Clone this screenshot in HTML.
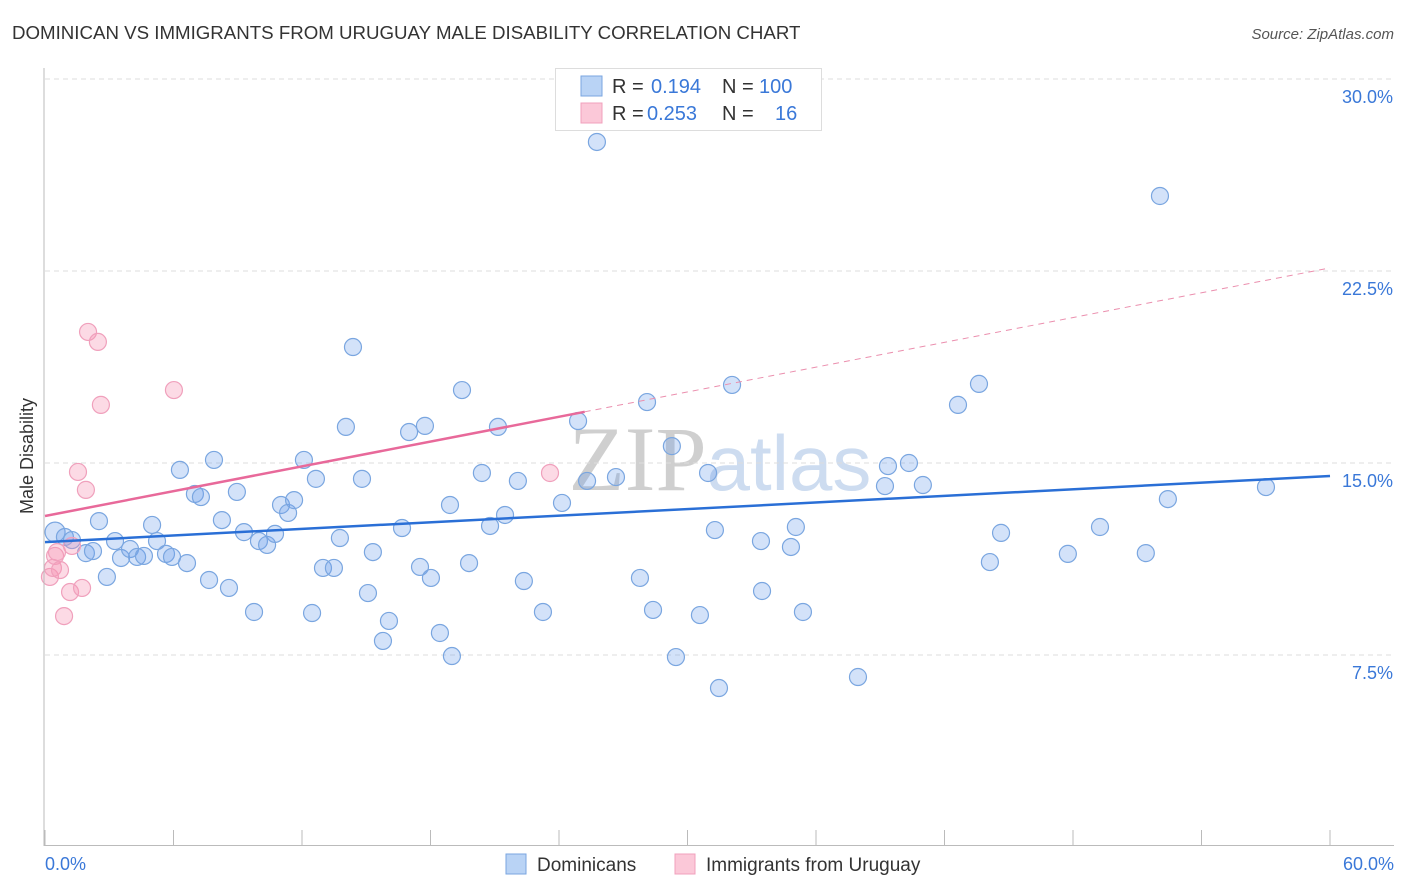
<!DOCTYPE html>
<html><head><meta charset="utf-8"><style>
body{margin:0;background:#fff;font-family:"Liberation Sans",sans-serif;}
svg{display:block}
</style></head><body>
<svg id="chart" width="1406" height="892">
<text x="12" y="39" font-size="18.7" fill="#333">DOMINICAN VS IMMIGRANTS FROM URUGUAY MALE DISABILITY CORRELATION CHART</text>
<text x="1394" y="39" font-size="15" fill="#555" font-style="italic" text-anchor="end">Source: ZipAtlas.com</text>
<text x="33" y="456" font-size="18" fill="#333" text-anchor="middle" transform="rotate(-90 33 456)">Male Disability</text>
<text x="720" y="490" font-size="92" fill="#d8d8d8" text-anchor="middle" font-family="Liberation Serif,serif"><tspan fill="#cfcfcf">ZIP</tspan><tspan fill="#cddcf0" font-family="Liberation Sans,sans-serif" font-size="78">atlas</tspan></text>
<g id="grid"></g><g id="marks"></g>
<line x1="44" y1="68" x2="44" y2="846" stroke="#bbb"/>
<line x1="44" y1="845.5" x2="1394" y2="845.5" stroke="#bbb"/>
<text x="45" y="870" font-size="18" fill="#3a78d8">0.0%</text>
<text x="1394" y="870" font-size="18" fill="#3a78d8" text-anchor="end">60.0%</text>
<g>
<rect x="555.5" y="68.5" width="266" height="62" fill="#fff" stroke="#ddd"/>
<rect x="581" y="76" width="21" height="20" fill="#b9d3f5" stroke="#7aa6e0"/>
<rect x="581" y="103" width="21" height="20" fill="#fbc8d8" stroke="#f0a0bc"/>
<text x="612" y="93" font-size="20" fill="#333">R =</text><text x="651" y="93" font-size="20" fill="#3a78d8">0.194</text>
<text x="722" y="93" font-size="20" fill="#333">N =</text><text x="759" y="93" font-size="20" fill="#3a78d8">100</text>
<text x="612" y="120" font-size="20" fill="#333">R =</text><text x="647" y="120" font-size="20" fill="#3a78d8">0.253</text>
<text x="722" y="120" font-size="20" fill="#333">N =</text><text x="775" y="120" font-size="20" fill="#3a78d8">16</text>
</g>
<g>
<rect x="506" y="854" width="20" height="20" fill="#b9d3f5" stroke="#7aa6e0"/>
<text x="537" y="871" font-size="19" fill="#333">Dominicans</text>
<rect x="675" y="854" width="20" height="20" fill="#fbc8d8" stroke="#f0a0bc"/>
<text x="706" y="871" font-size="19" fill="#333">Immigrants from Uruguay</text>
</g>
</svg>
<script>
const yTicks=[7.5,15,22.5,30];
const yTickLabels=["7.5%","15.0%","22.5%","30.0%"];
const xTicks=[0,6,12,18,24,30,36,42,48,54,60];
const blueX=[.47,.93,1.26,1.91,2.24,2.52,2.89,3.27,3.55,3.97,4.30,4.62,5.00,5.23,5.65,5.93,6.30,6.63,7.00,7.28,7.66,7.89,8.26,8.59,8.96,9.29,9.76,9.99,10.37,10.74,11.02,11.35,11.63,12.09,12.47,12.65,12.98,13.49,13.77,14.05,14.38,14.80,15.08,15.31,15.78,16.06,16.67,17.00,17.51,17.74,18.02,18.44,18.91,19.00,19.47,19.80,20.40,20.78,21.15,21.48,22.08,22.36,23.25,24.14,24.89,25.31,25.77,26.66,27.78,28.11,28.39,29.27,29.46,30.58,30.96,31.28,31.47,32.08,33.43,33.48,34.83,35.06,35.39,37.96,39.22,39.36,40.34,40.99,42.63,43.61,44.12,44.64,47.76,49.26,51.40,52.06,52.43,57.01];
const blueY=[12.30,12.11,11.99,11.48,11.56,12.73,10.55,11.95,11.29,11.64,11.33,11.37,12.58,11.95,11.45,11.33,14.73,11.09,13.79,13.67,10.43,15.12,12.77,10.12,13.87,12.30,9.18,11.95,11.80,12.23,13.36,13.05,13.55,15.12,9.14,14.38,10.90,10.90,12.07,16.41,19.53,14.38,9.92,11.52,8.05,8.83,12.46,16.21,10.94,16.45,10.51,8.36,13.36,7.46,17.85,11.09,14.61,12.54,16.41,12.97,14.30,10.39,9.18,13.44,16.64,14.30,27.54,14.45,10.51,17.38,9.26,15.66,7.42,9.06,14.61,12.38,6.21,18.05,11.95,10.00,11.72,12.50,9.18,6.64,14.10,14.88,15.00,14.14,17.27,18.09,11.13,12.27,11.45,12.50,11.48,25.43,13.59,14.06];
const pinkX=[.23,.37,.47,.56,.70,.89,1.17,1.26,1.54,1.73,1.91,2.01,2.47,2.61,6.02,23.58];
const pinkY=[10.55,10.90,11.37,11.52,10.82,9.02,9.96,11.76,14.65,10.12,13.95,20.12,19.73,17.27,17.85,14.61];
const blueTrend=[11.91,14.49];
const pinkTrend=[12.93,22.62];
const pinkSolidEnd=25.2;
const NS="http://www.w3.org/2000/svg";
const sx=v=>45+v/60*1285;
const sy=v=>847-v/7.5*192;
function mk(tag,at,parent){const e=document.createElementNS(NS,tag);for(const k in at)e.setAttribute(k,at[k]);parent.appendChild(e);return e;}
const grid=document.getElementById('grid'),marks=document.getElementById('marks');
yTicks.forEach((t,i)=>{
 const l=mk('line',{x1:45,x2:1394,y1:sy(t),y2:sy(t),stroke:'#ddd','stroke-dasharray':'5,4'},grid);
 
 
 const tx=mk('text',{x:1393,y:sy(t)+24,'font-size':18,fill:'#3a78d8','text-anchor':'end'},grid);
 tx.textContent=yTickLabels[i];
 
 
});
xTicks.forEach(t=>{
 const l=mk('line',{x1:sx(t),x2:sx(t),y1:830,y2:846,stroke:'#bbb'},grid);
 
 
});
blueX.forEach((x,i)=>{
 const c=mk('circle',{cx:sx(x),cy:sy(blueY[i]),r:i==0?10:8.5,fill:'rgba(110,160,235,0.3)',stroke:'#7aa6e0','stroke-width':1.2},marks);
 
 
});
pinkX.forEach((x,i)=>{
 const c=mk('circle',{cx:sx(x),cy:sy(pinkY[i]),r:8.5,fill:'rgba(245,150,180,0.35)',stroke:'#f0a0bc','stroke-width':1.2},marks);
 
 
});
const pAt=x=>pinkTrend[0]+(pinkTrend[1]-pinkTrend[0])*x/60;
const pd=mk('line',{x1:sx(pinkSolidEnd),y1:sy(pAt(pinkSolidEnd)),x2:sx(60),y2:sy(pinkTrend[1]),stroke:'#eb8fae','stroke-width':1,'stroke-dasharray':'6,5'},marks);


const ps=mk('line',{x1:sx(0),y1:sy(pinkTrend[0]),x2:sx(pinkSolidEnd),y2:sy(pAt(pinkSolidEnd)),stroke:'#e8699a','stroke-width':2.5},marks);


const bl=mk('line',{x1:sx(0),y1:sy(blueTrend[0]),x2:sx(60),y2:sy(blueTrend[1]),stroke:'#2a6fd6','stroke-width':2.5},marks);


</script>
</body></html>
